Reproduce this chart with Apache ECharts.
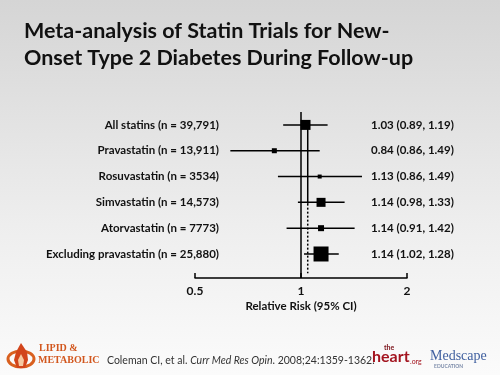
<!DOCTYPE html>
<html lang="en">
<head>
<meta charset="utf-8" />
<script src="https://cdn.jsdelivr.net/npm/echarts@6/dist/echarts.min.js"></script>
<style>
  html, body { margin: 0; padding: 0; }
  #main { width: 500px; height: 375px; }
</style>
</head>
<body>
<div id="main"></div>
<script>
// forest plot data
var studies = [
  'All statins (n = 39,791)',
  'Pravastatin (n = 13,911)',
  'Rosuvastatin (n = 3534)',
  'Simvastatin (n = 14,573)',
  'Atorvastatin (n = 7773)',
  'Excluding pravastatin (n = 25,880)'
];
var rrText = [
  '1.03 (0.89, 1.19)',
  '0.84 (0.86, 1.49)',
  '1.13 (0.86, 1.49)',
  '1.14 (0.98, 1.33)',
  '1.14 (0.91, 1.42)',
  '1.14 (1.02, 1.28)'
];
var estimates = [1.03, 0.84, 1.13, 1.14, 1.14, 1.14];
var lower = [0.89, 0.63, 0.86, 0.98, 0.91, 1.02];
var upper = [1.19, 1.13, 1.49, 1.33, 1.42, 1.28];
var weights = [10, 5, 4, 9, 6, 15];   // box size ~ study weight
var xTicks = [0.5, 1, 2];
var pooledRR = 1.045;

var yMax = 6.43;
var lblFont = 'bold 11.5px Lato';

var chart = echarts.init(document.getElementById('main'));

function renderRow(params, api) {
  var i = api.value(0);
  var yv = i + 0.5;
  var lo = api.coord([api.value(2), yv]);
  var hi = api.coord([api.value(3), yv]);
  var mid = api.coord([api.value(1), yv]);
  var s = api.value(4);
  var left = api.coord([xTicks[0], yv]);
  var right = api.coord([xTicks[2], yv]);
  return {
    type: 'group',
    children: [
      { type: 'line', shape: { x1: lo[0], y1: lo[1], x2: hi[0], y2: hi[1] },
        style: { stroke: '#000', lineWidth: 1.5 } },
      { type: 'rect', shape: { x: mid[0] - s / 2, y: mid[1] - s / 2, width: s, height: s },
        style: { fill: '#000' } },
      { type: 'text', x: left[0] + 24, y: mid[1],
        style: { text: studies[i], align: 'right', verticalAlign: 'middle', font: lblFont, fill: '#111' } },
      { type: 'text', x: right[0] - 36, y: mid[1],
        style: { text: rrText[i], align: 'left', verticalAlign: 'middle', font: lblFont, fill: '#111' } }
    ]
  };
}

var rows = estimates.map(function (e, i) {
  return [i, e, lower[i], upper[i], weights[i]];
});

var option = {
  backgroundColor: new echarts.graphic.LinearGradient(0, 0, 0, 1, [
    { offset: 0, color: '#d5d5d5' },
    { offset: 0.6, color: '#eeeeee' },
    { offset: 1, color: '#fbfbfb' }
  ]),
  animation: false,
  grid: { left: 195, right: 93, top: 112, bottom: 97 },
  xAxis: {
    type: 'log',
    logBase: 2,
    min: 0.5,
    max: 2,
    splitNumber: 2,
    position: 'bottom',
    axisLine: { onZero: false, lineStyle: { color: '#000', width: 1.5 } },
    axisTick: { inside: true, length: 5, lineStyle: { color: '#000', width: 1.5 } },
    splitLine: { show: false },
    axisLabel: {
      margin: 7,
      color: '#111',
      fontFamily: 'Lato',
      fontWeight: 'bold',
      fontSize: 12,
      formatter: function (v) { return String(+(+v).toFixed(2)); }
    },
    name: 'Relative Risk (95% CI)',
    nameLocation: 'middle',
    nameGap: 22,
    nameTextStyle: { color: '#111', fontFamily: 'Lato', fontWeight: 'bold', fontSize: 11.5 }
  },
  yAxis: { type: 'value', min: 0, max: yMax, inverse: true, show: false },
  series: [
    {
      type: 'line', symbol: 'none', silent: true,
      data: [[1, 0], [1, yMax]],
      lineStyle: { color: '#000', width: 1.5 }
    },
    {
      type: 'line', symbol: 'none', silent: true,
      data: [[pooledRR, 0.45], [pooledRR, 3.55]],
      lineStyle: { color: '#000', width: 1.5 }
    },
    {
      type: 'line', symbol: 'none', silent: true,
      data: [[pooledRR, 3.55], [pooledRR, 6.25]],
      lineStyle: { color: '#000', width: 1.5, type: [2, 2] }
    },
    {
      type: 'custom',
      renderItem: renderRow,
      encode: { x: [1, 2, 3], y: 0 },
      data: rows,
      z: 5
    }
  ],
  graphic: [
    { type: 'text', left: 24, top: 18,
      style: { text: 'Meta-analysis of Statin Trials for New-\nOnset Type 2 Diabetes During Follow-up',
        font: 'bold 21.5px Lato', lineHeight: 27, fill: '#111' } },
    // logo
    { type: 'ellipse', shape: { cx: 21, cy: 359, rx: 13, ry: 8 },
      style: { fill: 'none', stroke: '#d9601f', lineWidth: 3 } },
    { type: 'polygon', shape: { points: [[21, 343], [27, 352], [28, 360], [25, 368], [17, 368], [14, 360], [16, 352]] },
      style: { fill: '#d2451b' } },
    { type: 'polygon', shape: { points: [[21, 354], [24, 360], [23, 366], [19, 366], [18, 360]] },
      style: { fill: '#f6c9a0' } },
    { type: 'text', left: 39, top: 343,
      style: { text: 'LIPID &', font: 'bold 10px "Liberation Serif"', fill: '#d2571e' } },
    { type: 'text', left: 38, top: 355,
      style: { text: 'METABOLIC', font: 'bold 10px "Liberation Serif"', fill: '#d2571e' } },
    { type: 'text', left: 107, top: 355,
      style: {
        text: '{r|Coleman CI, et al. }{i|Curr Med Res Opin}{r|. 2008;24:1359-1362.}',
        rich: {
          r: { font: '10.5px Lato', fill: '#333' },
          i: { font: 'italic 10.5px Lato', fill: '#333' }
        }
      } },
    { type: 'text', left: 384, top: 344,
      style: { text: 'the', font: 'bold 7px Lato', fill: '#7a1018' } },
    { type: 'text', left: 372, top: 349,
      style: { text: 'heart', font: 'bold 16px Lato', fill: '#a3141f' } },
    { type: 'text', left: 410, top: 358,
      style: { text: '.org', font: '7px Lato', fill: '#a3141f' } },
    { type: 'text', left: 430, top: 349,
      style: { text: 'Medscape', font: '14px "Liberation Serif"', fill: '#3f5f9f' } },
    { type: 'text', left: 434, top: 364,
      style: { text: 'EDUCATION', font: 'bold 5px Lato', fill: '#7a8aa8' } }
  ]
};

chart.setOption(option);
</script>
</body>
</html>
